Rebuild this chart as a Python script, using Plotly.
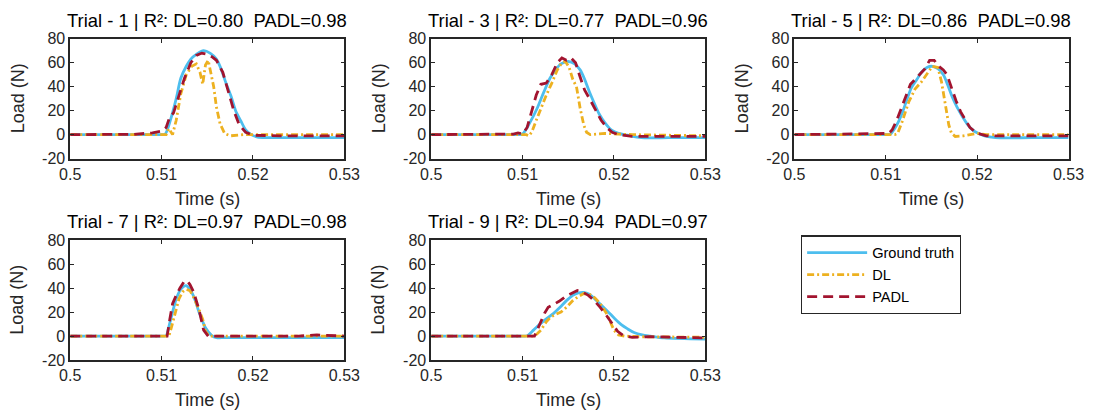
import plotly.graph_objects as go

# ---------------- data ----------------
titles = ["Trial - 1 | R\u00b2: DL=0.80 \u00a0PADL=0.98",
          "Trial - 3 | R\u00b2: DL=0.77 \u00a0PADL=0.96",
          "Trial - 5 | R\u00b2: DL=0.86 \u00a0PADL=0.98",
          "Trial - 7 | R\u00b2: DL=0.97 \u00a0PADL=0.98",
          "Trial - 9 | R\u00b2: DL=0.94 \u00a0PADL=0.97"]
series_names = ["Ground truth", "DL", "PADL"]
x_ticks = [0.5, 0.51, 0.52, 0.53]
x_tick_labels = ["0.5", "0.51", "0.52", "0.53"]
y_ticks = [-20, 0, 20, 40, 60, 80]
y_tick_labels = ["-20", "0", "20", "40", "60", "80"]

# Trial 1
gt1_t = [0.500, 0.505, 0.5095, 0.5100, 0.5104, 0.5110, 0.5116, 0.5121, 0.5127, 0.5132, 0.5138,
         0.5146, 0.5153, 0.5160, 0.5165, 0.5170, 0.5176, 0.5181, 0.5187, 0.5192, 0.5198, 0.5205,
         0.5215, 0.5250, 0.530]
gt1_v = [0, 0, 0, 0, 0.5, 13, 30, 47, 57, 63, 67, 70, 68, 63, 55, 44, 32, 20, 11, 4, 0, -2,
         -2.5, -2.5, -2.5]
dl1_t = [0.500, 0.5105, 0.5108, 0.5112, 0.5116, 0.5121, 0.5127, 0.5133, 0.5138, 0.5142, 0.5145,
         0.5148, 0.5151, 0.5154, 0.5157, 0.5160, 0.5164, 0.5169, 0.5175, 0.5190, 0.530]
dl1_v = [0, 0, 5, 0, 12, 34, 50, 57, 59, 52, 42, 58, 62, 50, 40, 23, 9, 1, -1, 0, 0]
pa1_t = [0.500, 0.5070, 0.5090, 0.5100, 0.5105, 0.5109, 0.5113, 0.5118, 0.5125, 0.5132, 0.5138,
         0.5144, 0.5150, 0.5155, 0.5160, 0.5167, 0.5173, 0.5179, 0.5185, 0.5192, 0.5200, 0.5230, 0.530]
pa1_v = [0, 0.3, 1.5, 3, 6, 15, 18, 30, 47, 60, 66, 68, 67, 65, 62, 52, 37, 20, 8, 2, -0.5, -1, -1]

# Trial 3
gt3_t = [0.500, 0.505, 0.5092, 0.5096, 0.5100, 0.5108, 0.5116, 0.5123, 0.5130, 0.5136, 0.5142,
         0.5150, 0.5157, 0.5163, 0.5168, 0.5173, 0.5178, 0.5184, 0.5190, 0.5197, 0.5205, 0.5215,
         0.5230, 0.5260, 0.530]
gt3_v = [0, 0, 0, 0, 0.5, 10, 22, 35, 47, 54, 59, 61, 59, 54, 46, 36, 27, 17, 10, 4, 1, -0.5,
         -2.5, -2.5, -2.5]
dl3_t = [0.500, 0.5104, 0.5107, 0.5110, 0.5115, 0.5120, 0.5126, 0.5132, 0.5138, 0.5143, 0.5147,
         0.5151, 0.5155, 0.5159, 0.5163, 0.5167, 0.5170, 0.5174, 0.5180, 0.5190, 0.5205, 0.5220, 0.530]
dl3_v = [0, 0, -1, 2, 12, 22, 33, 43, 54, 60, 61, 56, 46, 40, 22, 8, 2, 0, 0.5, 1, 0.5, 0, -1]
pa3_t = [0.500, 0.5090, 0.5095, 0.5100, 0.5105, 0.5110, 0.5115, 0.5120, 0.5126, 0.5132, 0.5138,
         0.5143, 0.5148, 0.5153, 0.5158, 0.5163, 0.5168, 0.5174, 0.5180, 0.5186, 0.5192, 0.5198,
         0.5205, 0.5220, 0.530]
pa3_v = [0, 0.5, 1.5, 0.5, 6, 20, 33, 42, 43, 50, 60, 64, 62, 64, 60, 48, 37, 29, 20, 12, 6, 2,
         0, -1.5, -1.5]

# Trial 5
gt5_t = [0.500, 0.505, 0.5097, 0.5101, 0.5105, 0.5112, 0.5118, 0.5123, 0.5128, 0.5134, 0.5139,
         0.5145, 0.5151, 0.5157, 0.5163, 0.5168, 0.5173, 0.5178, 0.5184, 0.5190, 0.5195, 0.5200,
         0.5208, 0.5220, 0.5260, 0.530]
gt5_v = [0, 0, 0, 0, 0.5, 8, 18, 29, 39, 46, 52, 56, 57, 55, 50, 41, 31, 23, 15, 8, 4, 1.5, -1,
         -2.5, -2.5, -2.5]
dl5_t = [0.500, 0.5110, 0.5113, 0.5118, 0.5125, 0.5132, 0.5139, 0.5146, 0.5151, 0.5157, 0.5161,
         0.5165, 0.5169, 0.5172, 0.5176, 0.5185, 0.5195, 0.5200, 0.5210, 0.530]
dl5_v = [0, 0, 1, 11, 27, 38, 44, 52, 57, 56, 44, 26, 8, 1, -1.5, -1, 0.5, 1, 0, 0]
pa5_t = [0.500, 0.5095, 0.5103, 0.5107, 0.5112, 0.5117, 0.5122, 0.5127, 0.5132, 0.5137, 0.5143,
         0.5148, 0.5153, 0.5158, 0.5163, 0.5167, 0.5172, 0.5177, 0.5182, 0.5187, 0.5192, 0.5199,
         0.5210, 0.530]
pa5_v = [0, 0.5, 1, 4, 12, 22, 32, 42, 46, 50, 55, 62, 62, 57, 54, 50, 38, 28, 19, 12, 6, 1.5,
         -1, -1]

# Trial 7
gt7_t = [0.500, 0.505, 0.5098, 0.5102, 0.5105, 0.5108, 0.5111, 0.5116, 0.5121, 0.5127, 0.5134,
         0.5141, 0.5148, 0.5155, 0.5160, 0.5170, 0.5250, 0.530]
gt7_v = [0, 0, 0, 0, 0.3, 8, 17, 31, 39, 42, 35, 20, 7, 0.5, -1.2, -1.2, -1.2, -1.2]
dl7_t = [0.500, 0.5108, 0.5111, 0.5115, 0.5119, 0.5123, 0.5127, 0.5131, 0.5136, 0.5141, 0.5145,
         0.5148, 0.5152, 0.5170, 0.5200, 0.5250, 0.530]
dl7_v = [0, 0, 8, 20, 31, 37, 39, 38, 31, 22, 14, 4, 0, 0, 0, 0, 0]
pa7_t = [0.500, 0.5106, 0.5109, 0.5112, 0.5116, 0.5120, 0.5125, 0.5128, 0.5131, 0.5135, 0.5141,
         0.5146, 0.5151, 0.5160, 0.5180, 0.5200, 0.5230, 0.5250, 0.5270, 0.5290, 0.530]
pa7_v = [0, 0, 14, 27, 34, 40, 46, 46, 43, 37, 22, 5, 0, 0, 0.5, 0, 0.5, 0, 1, 0, 0]

# Trial 9
gt9_t = [0.500, 0.505, 0.5098, 0.5102, 0.5105, 0.5112, 0.5119, 0.5127, 0.5134, 0.5141, 0.5148,
         0.5155, 0.5161, 0.5167, 0.5173, 0.5179, 0.5186, 0.5194, 0.5201, 0.5208, 0.5215, 0.5222,
         0.5231, 0.5240, 0.5255, 0.530]
gt9_v = [0, 0, 0, 0, 0.3, 5, 10, 15, 19, 24, 29.6, 34, 36, 36.5, 35, 31, 26, 20, 14.5, 9.6, 6,
         3, 1, 0, -1.5, -2.5]
dl9_t = [0.500, 0.5113, 0.5116, 0.5120, 0.5126, 0.5131, 0.5136, 0.5142, 0.5148, 0.5155, 0.5161,
         0.5167, 0.5173, 0.5179, 0.5185, 0.5191, 0.5196, 0.5200, 0.5205, 0.5212, 0.5230, 0.5260,
         0.530]
dl9_v = [0, 0, 2, 5, 12, 16, 18, 20, 24, 29.6, 33, 35.5, 35, 32, 27, 20, 12, 5, 1, 0, -0.5,
         -0.5, -1]
pa9_t = [0.500, 0.5113, 0.5116, 0.5120, 0.5124, 0.5128, 0.5133, 0.5140, 0.5147, 0.5154, 0.5160,
         0.5165, 0.5172, 0.5178, 0.5185, 0.5192, 0.5198, 0.5204, 0.5210, 0.5220, 0.5240, 0.530]
pa9_v = [0, 0, 5, 12, 19, 24, 26, 29, 33, 36, 38, 37, 34, 30, 24, 17, 10, 4, 0.5, -1, -0.5,
         -1.5]

trials = [
    ((gt1_t, gt1_v), (dl1_t, dl1_v), (pa1_t, pa1_v)),
    ((gt3_t, gt3_v), (dl3_t, dl3_v), (pa3_t, pa3_v)),
    ((gt5_t, gt5_v), (dl5_t, dl5_v), (pa5_t, pa5_v)),
    ((gt7_t, gt7_v), (dl7_t, dl7_v), (pa7_t, pa7_v)),
    ((gt9_t, gt9_v), (dl9_t, dl9_v), (pa9_t, pa9_v)),
]

# ---------------- styling ----------------
W, H = 1106, 419
FONT = "Liberation Sans, Arial, Helvetica, sans-serif"
AX = "#262626"
colors = ["#4DBEEE", "#EDB120", "#A2142F"]
dashes = ["solid", "7px,3px,2px,3px", "10px,6px"]
shapes_ = ["spline", "linear", "linear"]
lw = 2.8

# axes boxes in pixels: (left, right, top, bottom)
col_px = [(60.7, 341.7), (430.7, 711.7), (803.0, 1084.0)]
row_px = [(32.0, 157.0), (242.0, 367.0)]
positions = [(0, 0), (0, 1), (0, 2), (1, 0), (1, 1)]

fig = go.Figure()
layout = dict(
    width=W, height=H, margin=dict(l=0, r=0, t=0, b=0),
    paper_bgcolor="white", plot_bgcolor="white",
    font=dict(family=FONT, color=AX),
    showlegend=True,
    legend=dict(x=809.7 / W, y=1 - 237 / H, xanchor="left", yanchor="top",
                bgcolor="white", bordercolor=AX, borderwidth=1.2,
                font=dict(size=14.6, family=FONT, color="#000000"),
                itemwidth=60, tracegroupgap=0),
)
annotations = []

for i, (trial, (r, c)) in enumerate(zip(trials, positions)):
    k = i + 1
    xa = "x" if k == 1 else f"x{k}"
    ya = "y" if k == 1 else f"y{k}"
    for j, (tt, vv) in enumerate(trial):
        fig.add_trace(go.Scatter(
            x=tt, y=vv, mode="lines", name=series_names[j],
            legendgroup=series_names[j], showlegend=(i == 0),
            line=dict(color=colors[j], width=lw, dash=dashes[j], shape=shapes_[j],
                      smoothing=0.8 if shapes_[j] == "spline" else None),
            xaxis=xa, yaxis=ya, hoverinfo="skip"))
    L, R = col_px[c]
    T, B = row_px[r]
    axis_common = dict(showline=True, mirror="ticks", linecolor=AX, linewidth=1.6,
                       ticks="inside", ticklen=4, tickwidth=1.3, tickcolor=AX,
                       showgrid=False, zeroline=False,
                       tickfont=dict(size=16, family=FONT, color=AX))
    layout[f"xaxis{k}" if k > 1 else "xaxis"] = dict(
        axis_common, domain=[L / W, R / W], range=[0.5, 0.53],
        tickvals=x_ticks, ticktext=x_tick_labels, anchor=ya)
    layout[f"yaxis{k}" if k > 1 else "yaxis"] = dict(
        axis_common, domain=[1 - B / H, 1 - T / H], range=[-20, 80],
        tickvals=y_ticks, ticktext=y_tick_labels, anchor=xa)
    cx = (L + R) / 2
    annotations.append(dict(text=titles[i], x=cx / W, y=1 - (T - 19) / H,
                            xref="paper", yref="paper", showarrow=False,
                            xanchor="center", yanchor="middle",
                            font=dict(size=18.4, family=FONT, color="#000000")))
    annotations.append(dict(text="Time (s)", x=cx / W, y=1 - (B + 42) / H,
                            xref="paper", yref="paper", showarrow=False,
                            xanchor="center", yanchor="middle",
                            font=dict(size=18, family=FONT, color=AX)))
    annotations.append(dict(text="Load (N)", x=(L - 54) / W, y=1 - (T + B) / 2 / H,
                            xref="paper", yref="paper", showarrow=False, textangle=-90,
                            xanchor="center", yanchor="middle",
                            font=dict(size=18, family=FONT, color=AX)))

layout["annotations"] = annotations
fig.update_layout(**layout)
fig.write_html("out.html")
